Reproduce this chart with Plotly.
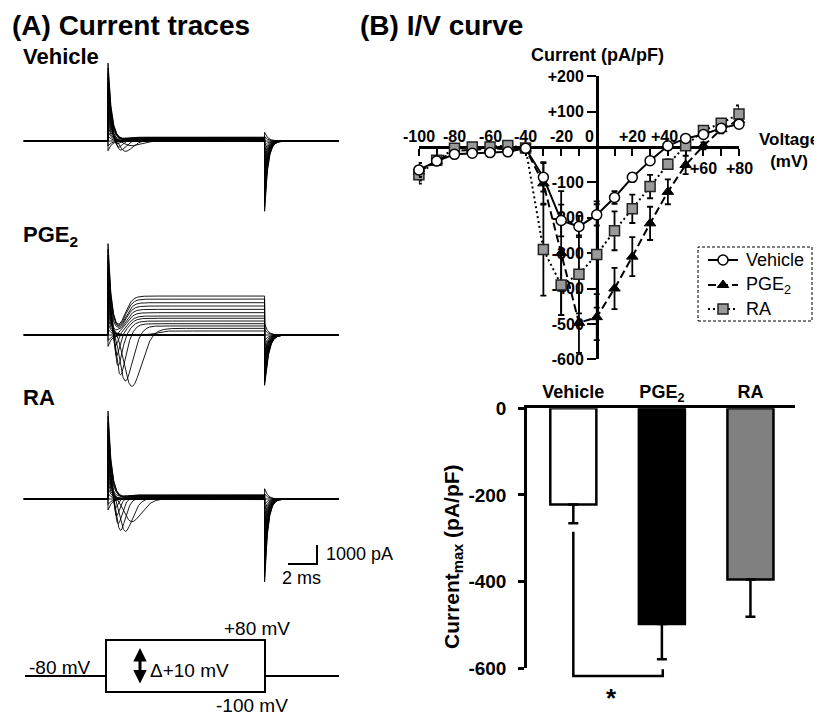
import numpy as np
import plotly.graph_objects as go

W, H = 822, 715
OFF = 8   # page body margin: shift all drawing so it lands on the reference pixels
FONT = "Liberation Sans, Arial, sans-serif"


def px(x):
    return (x - OFF) / W


def py(y):
    return 1 - (y - OFF) / H


# ---------------- I/V curve data (pA/pF) ----------------
voltages = [-100, -90, -80, -70, -60, -50, -40, -30, -20, -10, 0, 10, 20, 30, 40, 50, 60, 70, 80]
iv_vehicle = [-65, -40, -21, -18, -16, -14, -4, -86, -208, -225, -192, -143, -86, -39, 3, 24, 35, 53, 64]
iv_vehicle_err = [20, 8, 5, 5, 5, 5, 5, 40, 45, 30, 30, 18, 12, 8, 5, 5, 6, 8, 8]
iv_pge2 = [-70, -40, -12, -8, -5, -6, -5, -103, -300, -497, -481, -400, -310, -216, -127, -51, 3, 50, 76]
iv_pge2_err = [25, 8, 5, 5, 5, 5, 5, 60, 175, 85, 65, 58, 55, 47, 35, 26, 10, 12, 15]
iv_ra = [-79, -38, -4, 0, 0, 4, -3, -290, -390, -360, -304, -237, -175, -112, -49, 3, 46, 67, 93]
iv_ra_err = [25, 8, 5, 5, 5, 5, 5, 130, 85, 110, 150, 55, 40, 33, 14, 8, 8, 12, 24]
iv_yticks = [-600, -500, -400, -300, -200, -100, 100, 200]
iv_yticktext = ["-600", "-500", "-400", "-300", "-200", "-100", "+100", "+200"]
iv_xlabels = ["-100", "-80", "-60", "-40", "-20", "0", "+20", "+40", "+60", "+80"]
iv_xlabel_vals = [-100, -80, -60, -40, -20, 0, 20, 40, 60, 80]

# ---------------- bar chart data (pA/pF) ----------------
groups = ["Vehicle", "PGE<sub>2</sub>", "RA"]
bar_means = [-222, -498, -395]
bar_sem = [43, 81, 86]
bar_ticks = [0, -200, -400, -600]

# ---------------- current-trace data (pA), one value per voltage step ----------------
trace_steps = voltages
holding_mV = -80
step_ms = 10.8
time_to_peak_ms = [1, 1, 1, 1, 1, 1, 2.4, 1.65, 1.2, 0.85, 0.68, 0.56, 0.48, 0.42, 0.38, 0.35, 0.33, 0.32, 0.3]
veh_inward = [0, 0, 0, 0, 0, 0, 0, 250, 560, 540, 450, 350, 250, 160, 80, 20, 0, 0, 0]
pge2_inward = [0, 0, 0, 0, 0, 0, 0, 2720, 2450, 2190, 1800, 1400, 1000, 700, 400, 150, 0, 0, 0]
ra_inward = [0, 0, 0, 0, 0, 0, 0, 1200, 1720, 1720, 1450, 1150, 850, 550, 300, 100, 0, 0, 0]
veh_sustained = [-30, -15, 0, 0, 0, 0, 10, 25, 40, 55, 70, 85, 100, 115, 130, 150, 165, 185, 200]
pge2_sustained = [0, 0, 0, 0, 0, 0, 210, 350, 475, 595, 735, 880, 1000, 1175, 1350, 1525, 1700, 1890, 2050]
ra_sustained = [-30, -15, 0, 0, 0, 0, 10, 25, 45, 60, 80, 100, 115, 130, 150, 165, 185, 200, 215]
cap_on = [4100, 4790, 4630]    # onset transient of the +160 mV step
cap_off = [3900, 4700, 4580]   # offset transient of the +160 mV step

t = np.concatenate([
    np.linspace(-5.8, -0.001, 10),
    np.linspace(0, 5, 501),
    np.linspace(5.05, step_ms - 0.001, 60),
    np.linspace(step_ms, step_ms + 3, 301),
    np.linspace(step_ms + 3.05, 15.9, 30),
])


def sweep(V, inward, tp, sustained, c_on, c_off):
    dv = (V - holding_mV) / 160.0
    i = np.zeros_like(t)
    on = (t >= 0) & (t < step_ms)
    ts = t[on]
    i_on = c_on * dv * np.exp(-ts / 0.25)
    if inward > 0:
        x = np.maximum(ts / tp, 1e-9)
        i_on -= inward * np.exp(8 * np.log(x) + 8 * (1 - x))
    rise = 1 / (1 + np.exp(-(ts - (tp + 0.85)) / 0.25))
    i_on += sustained * rise
    i[on] = i_on
    off = t >= step_ms
    to = t[off] - step_ms
    i[off] = -c_off * dv * np.exp(-to / 0.22) + sustained * np.exp(-to / 0.15)
    return i


def family(inward, sustained, c_on, c_off):
    xs, ys = [], []
    for k, V in enumerate(trace_steps):
        y = sweep(V, inward[k], time_to_peak_ms[k], sustained[k], c_on, c_off)
        xs += list(t) + [None]
        ys += list(y) + [None]
    return xs, ys


fig = go.Figure()

# ---- trace panels geometry ----
K = 1000 / 19.0          # pA per pixel
ONSET_PX, MS_PX = 108, 14.5
x_range = [(OFF - ONSET_PX) / MS_PX, (400 - ONSET_PX) / MS_PX]
panels = [  # (yaxis, base px, top px, bottom px)
    ("y", 141, 45, 230),
    ("y2", 335, 235, 400),
    ("y3", 499, 405, 600),
]
fams = [
    (veh_inward, veh_sustained),
    (pge2_inward, pge2_sustained),
    (ra_inward, ra_sustained),
]
for j, (ax, base, top, bot) in enumerate(panels):
    xs, ys = family(fams[j][0], fams[j][1], cap_on[j], cap_off[j])
    fig.add_trace(go.Scatter(x=xs, y=ys, mode="lines", xaxis="x", yaxis=ax,
                             line=dict(color="black", width=0.9), showlegend=False,
                             hoverinfo="skip", connectgaps=False))

# ---- I/V curve ----
series = [
    ("PGE<sub>2</sub>", iv_pge2, iv_pge2_err,
     dict(symbol="triangle-up", color="black", size=10, line=dict(color="black", width=1)), "8px,4px", 1),
    ("RA", iv_ra, iv_ra_err,
     dict(symbol="square", color="#9a9a9a", size=10, line=dict(color="#222", width=1.5)), "2px,3px", 2),
    ("Vehicle", iv_vehicle, iv_vehicle_err,
     dict(symbol="circle", color="white", size=10, line=dict(color="black", width=1.5)), "solid", 0),
]
for name, vals, err, mk, dash, row in series:
    fig.add_trace(go.Scatter(
        x=voltages, y=vals, name=name, mode="lines+markers", xaxis="x2", yaxis="y4",
        line=dict(color="black", width=2, dash=dash), marker=mk, showlegend=False,
        error_y=dict(type="data", array=err, color="black", thickness=1.8, width=3),
        cliponaxis=False, hoverinfo="skip"))

# ---- custom legend (own little axis inside the dashed frame) ----
LG_X0, LG_X1, LG_Y0, LG_Y1 = 698, 812, 247, 321
legend_rows = [13, 38, 62]        # px below frame top
legend_key = [10, 25, 40]         # px right of frame left: line start, marker, line end
legend_order = ["Vehicle", "PGE<sub>2</sub>", "RA"]
annotations = []


def txt(text, x, y, size, bold=False, xanchor="left", yanchor="middle", xref="paper", yref="paper", **kw):
    annotations.append(dict(text=text, x=x, y=y, xref=xref, yref=yref, showarrow=False,
                            xanchor=xanchor, yanchor=yanchor,
                            font=dict(family=FONT, size=size, color="black",
                                      weight="bold" if bold else "normal"), **kw))


style = {s[0]: (s[3], s[4]) for s in series}
for r, name in enumerate(legend_order):
    mk, dash = style[name]
    yy = legend_rows[r]
    fig.add_trace(go.Scatter(x=[legend_key[0], legend_key[2]], y=[yy, yy], mode="lines",
                             xaxis="x4", yaxis="y6", showlegend=False, hoverinfo="skip",
                             line=dict(color="black", width=2, dash=dash)))
    fig.add_trace(go.Scatter(x=[legend_key[1]], y=[yy], mode="markers", xaxis="x4", yaxis="y6",
                             showlegend=False, hoverinfo="skip", marker=mk, cliponaxis=False))
    txt(name, px(LG_X0 + 46), py(LG_Y0 + yy), 18)

# ---- bar chart ----
fig.add_trace(go.Bar(
    x=[0, 1, 2], y=bar_means, width=0.52, xaxis="x3", yaxis="y5", showlegend=False,
    marker=dict(color=["white", "black", "#808080"], line=dict(color="black", width=2.5)),
    error_y=dict(type="data", symmetric=False, array=[0, 0, 0], arrayminus=bar_sem,
                 color="black", thickness=2.5, width=5),
    cliponaxis=False, hoverinfo="skip"))

# axis definitions
layout_axes = dict(
    xaxis=dict(domain=[px(OFF), px(400)], range=x_range, visible=False, anchor="y"),
    xaxis4=dict(domain=[px(LG_X0), px(LG_X1)], range=[0, LG_X1 - LG_X0], visible=False, anchor="y6"),
    yaxis6=dict(domain=[py(LG_Y1), py(LG_Y0)], range=[LG_Y1 - LG_Y0, 0], visible=False, anchor="x4"),
)
for ax, base, top, bot in panels:
    key = "yaxis" if ax == "y" else "yaxis" + ax[1:]
    layout_axes[key] = dict(domain=[py(bot), py(top)], range=[-(bot - base) * K, (base - top) * K],
                            visible=False, anchor="x")

# I/V axes
IV_X0, IV_X1 = 418.9, 739.0
IV_Y0, IV_Y1 = 359.3, 76.1   # px for -600 and +200
iv_zero_py = IV_Y1 + (IV_Y0 - IV_Y1) * 200 / 800
iv_zero_px = IV_X0 + (IV_X1 - IV_X0) * 100 / 180
layout_axes["xaxis2"] = dict(domain=[px(IV_X0), px(IV_X1)], range=[-100, 80], anchor="free",
                             position=py(iv_zero_py), showline=True, linecolor="black", linewidth=2.5,
                             ticks="outside", ticklen=7, tickwidth=2, tickcolor="black",
                             tickvals=voltages, showticklabels=False, showgrid=False, zeroline=False,
                             layer="below traces")
layout_axes["yaxis4"] = dict(domain=[py(IV_Y0), py(IV_Y1)], range=[-600, 200], anchor="free",
                             position=px(iv_zero_px), showline=True, linecolor="black", linewidth=2.5,
                             ticks="outside", ticklen=9, tickwidth=2, tickcolor="black",
                             tickvals=iv_yticks, ticktext=iv_yticktext,
                             tickfont=dict(family=FONT, size=16, color="black", weight="bold"),
                             showgrid=False, zeroline=False, layer="below traces")

# bar axes
B_X0, B_X1 = 527, 795
B_Y0, B_Y1 = 668.3, 408.3
layout_axes["xaxis3"] = dict(domain=[px(B_X0), px(B_X1)], range=[-0.523, 2.503], anchor="y5", side="top",
                             showline=True, linecolor="black", linewidth=2.5, ticks="",
                             tickvals=[0, 1, 2], ticktext=groups,
                             tickfont=dict(family=FONT, size=18, color="black", weight="bold"),
                             showgrid=False, zeroline=False)
layout_axes["yaxis5"] = dict(domain=[py(B_Y0), py(B_Y1)], range=[-600, 0], anchor="x3",
                             showline=True, linecolor="black", linewidth=2.5,
                             ticks="outside", ticklen=6, tickwidth=2.5, tickcolor="black",
                             tickvals=bar_ticks, ticktext=[str(v) for v in bar_ticks],
                             ticklabelstandoff=8,
                             tickfont=dict(family=FONT, size=19, color="black", weight="bold"),
                             showgrid=False, zeroline=False)


def bar_y(v):
    return py(B_Y1 + (B_Y0 - B_Y1) * (0 - v) / 600)


def bar_x(c):
    return px(B_X0 + (B_X1 - B_X0) * (c + 0.523) / 3.026)


txt("(A) Current traces", px(10), py(25), 28, True)
txt("(B) I/V curve", px(358), py(25), 28, True)
txt("Vehicle", px(21), py(57), 22, True)
txt("PGE<sub>2</sub>", px(21), py(236), 22, True)
txt("RA", px(21), py(398), 22, True)

# I/V labels
shifts = {0: -7, 40: -3}
for lab, v in zip(iv_xlabels, iv_xlabel_vals):
    ypix = 169 if v > 40 else 136
    txt(lab, v, py(ypix), 16, True, xanchor="center", xref="x2", xshift=shifts.get(v, 0))
txt("Current (pA/pF)", px(597), py(55), 18, True, xanchor="center")
txt("Voltage<br>(mV)", px(789), py(151), 17, True, xanchor="center")

# bar labels
txt("Current<sub>max</sub> (pA/pF)", px(453), py(556), 21, True, xanchor="center", textangle=-90)
txt("*", bar_x(0.43), bar_y(-668), 26, True, xanchor="center")

# scale bar labels
txt("1000 pA", px(324), py(554), 18)
txt("2 ms", px(301), py(578), 18, xanchor="center")

# protocol labels
txt("-80 mV", px(27), py(667), 19)
txt("+80 mV", px(222), py(628), 19)
txt("Δ+10 mV", px(148), py(670), 19)
txt("-100 mV", px(214), py(705), 19)

# double arrow in protocol
annotations.append(dict(x=px(140), y=py(648), xref="paper", yref="paper", ax=0, ay=37,
                        axref="pixel", ayref="pixel", showarrow=True, arrowhead=2,
                        arrowside="end+start", arrowsize=0.9, arrowwidth=3, arrowcolor="black", text=""))

shapes = []
# protocol
LW = 2
shapes.append(dict(type="line", xref="paper", yref="paper", x0=px(25), x1=px(106), y0=py(676), y1=py(676),
                   line=dict(color="black", width=LW)))
shapes.append(dict(type="rect", xref="paper", yref="paper", x0=px(106), x1=px(265), y0=py(692), y1=py(640),
                   line=dict(color="black", width=LW)))
shapes.append(dict(type="line", xref="paper", yref="paper", x0=px(265), x1=px(339), y0=py(676), y1=py(676),
                   line=dict(color="black", width=LW)))
# scale bar (RA panel data units)
sb_t1 = (317 - ONSET_PX) / MS_PX
sb_y0 = -(564 - 499) * K
shapes.append(dict(type="path", xref="x", yref="y3",
                   path=f"M {sb_t1 - 2},{sb_y0} L {sb_t1},{sb_y0} L {sb_t1},{sb_y0 + 1000}",
                   line=dict(color="black", width=2)))
# legend frame
shapes.append(dict(type="rect", xref="paper", yref="paper", x0=px(LG_X0), x1=px(LG_X1),
                   y0=py(LG_Y1), y1=py(LG_Y0), line=dict(color="black", width=1, dash="3px,2px")))
# significance bracket
shapes.append(dict(type="path", xref="paper", yref="paper",
                   path=(f"M {bar_x(0)},{bar_y(-285)} L {bar_x(0)},{bar_y(-618)} "
                         f"L {bar_x(1.01)},{bar_y(-618)} L {bar_x(1.01)},{bar_y(-602)}"),
                   line=dict(color="black", width=2.5)))

fig.update_layout(
    width=W, height=H, margin=dict(l=0, r=0, t=0, b=0, pad=0, autoexpand=False),
    paper_bgcolor="white", plot_bgcolor="rgba(0,0,0,0)",
    showlegend=False,
    annotations=annotations, shapes=shapes,
    **layout_axes,
)

fig.write_html("out.html")
